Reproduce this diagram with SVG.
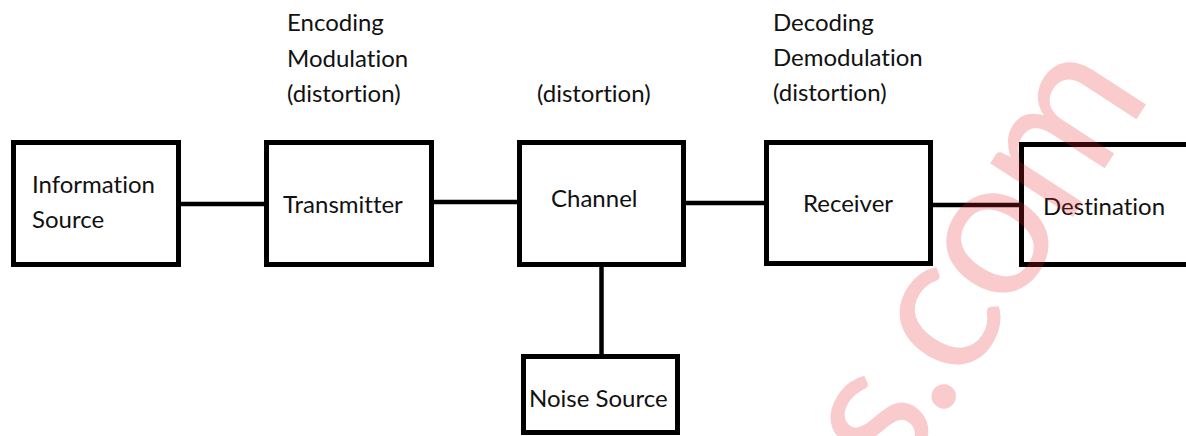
<svg xmlns="http://www.w3.org/2000/svg" width="1186" height="436" viewBox="0 0 1186 436">
  <style>
    .box { fill: #ffffff; stroke: #000000; stroke-width: 5; }
    .wire { stroke: #000000; stroke-width: 4.5; fill: none; }
    .lbl { font-family: Lato, "Open Sans", "Liberation Sans", sans-serif; font-size: 24px; fill: #111111; font-variant-ligatures: none; font-feature-settings: "liga" 0, "clig" 0; }
    .mark { font-family: Lato, "Liberation Sans", sans-serif; font-size: 195px; letter-spacing: -6px; fill: #e8262a; fill-opacity: 0.24; font-variant-ligatures: none; }
  </style>
  <rect width="1186" height="436" fill="#ffffff"/>

  <!-- links between blocks -->
  <g id="connectors">
    <line class="wire" x1="181" y1="204" x2="264" y2="204"/>
    <line class="wire" x1="434" y1="202" x2="517" y2="202"/>
    <line class="wire" x1="686" y1="203" x2="764" y2="203"/>
    <line class="wire" x1="933" y1="205" x2="1019" y2="205"/>
    <line class="wire" x1="601.5" y1="267" x2="601.5" y2="354"/>
  </g>

  <g id="information-source">
    <rect class="box" x="13.5" y="142.5" width="165" height="122"/>
    <text class="lbl" x="32" y="193">Information</text>
    <text class="lbl" x="32" y="228">Source</text>
  </g>

  <g id="transmitter">
    <rect class="box" x="266.5" y="142.5" width="165" height="122"/>
    <text class="lbl" x="283" y="213">Transmitter</text>
  </g>

  <g id="channel">
    <rect class="box" x="519.5" y="142.5" width="164" height="122"/>
    <text class="lbl" x="551" y="207">Channel</text>
  </g>

  <g id="receiver">
    <rect class="box" x="766.5" y="142.5" width="164" height="121"/>
    <text class="lbl" x="803" y="212">Receiver</text>
  </g>

  <g id="destination">
    <rect class="box" x="1021.5" y="144.5" width="180" height="120"/>
    <text class="lbl" x="1043" y="215">Destination</text>
  </g>

  <g id="noise-source">
    <rect class="box" x="523.5" y="356.5" width="154" height="76"/>
    <text class="lbl" x="529" y="407">Noise Source</text>
  </g>

  <!-- stage annotations -->
  <g id="transmitter-notes">
    <text class="lbl" x="287" y="31">Encoding</text>
    <text class="lbl" x="287" y="67">Modulation</text>
    <text class="lbl" x="287" y="102">(distortion)</text>
  </g>
  <g id="channel-notes">
    <text class="lbl" x="537" y="102">(distortion)</text>
  </g>
  <g id="receiver-notes">
    <text class="lbl" x="773" y="31">Decoding</text>
    <text class="lbl" x="773" y="66">Demodulation</text>
    <text class="lbl" x="773" y="101">(distortion)</text>
  </g>

  <!-- faint diagonal watermark -->
  <g id="watermark" transform="translate(951 405) rotate(-57)">
    <text class="mark" x="-98" y="0">s.com</text>
  </g>
</svg>
